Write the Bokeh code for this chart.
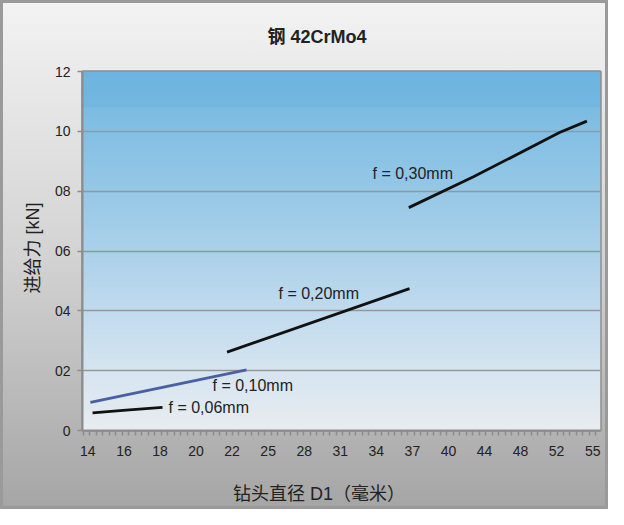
import numpy as np
from bokeh.plotting import figure
from bokeh.models import FixedTicker, Title
from bokeh.embed import file_html
from bokeh.resources import INLINE
from bokeh.core.properties import value

# ---- data -------------------------------------------------------------
x_labels = ["14", "16", "18", "20", "22", "25", "28", "31", "34", "37",
            "40", "44", "48", "52", "55"]
y_ticks = [0, 2, 4, 6, 8, 10, 12]
y_labels = ["0", "02", "04", "06", "08", "10", "12"]

# x given as position on the category axis (0 = "14", 14 = "55")
f006_x = [0.13, 1.06, 2.07]
f006_y = [0.59, 0.68, 0.77]
f010_x = [0.07, 4.40]
f010_y = [0.94, 2.03]
f020_x = [3.86, 8.92]
f020_y = [2.62, 4.74]
f030_x = [8.90, 10.68, 13.08, 13.84]
f030_y = [7.45, 8.47, 9.96, 10.34]

series_names = ["f = 0,06mm", "f = 0,10mm", "f = 0,20mm", "f = 0,30mm"]

title_text = "钢 42CrMo4"
x_title = "钻头直径 D1（毫米）"
y_title = "进给力 [kN]"

# ---- geometry ---------------------------------------------------------
W, H = 608, 509
FL, FR, FT, FB = 82, 600, 71, 430          # frame edges in px
X0, X1 = -0.149, 14.217
PPX = (FR - FL) / (X1 - X0)
PPY = (FB - FT) / 12.0


def px_x(px):
    return X0 + (px - FL) / PPX


def px_y(py):
    return (FB - py) / PPY


FONT = "Liberation Sans, Noto Sans CJK SC"

p = figure(width=W, height=H, output_backend="svg", toolbar_location=None,
           x_range=(X0, X1), y_range=(0, 12),
           min_border_left=FL, min_border_right=W - FR,
           min_border_top=FT, min_border_bottom=H - FB)

p.border_fill_color = None
p.background_fill_color = None
p.styles = {
    "background": "linear-gradient(to bottom, #f3f3f3 0%, #d3d3d3 50%, #a5a5a5 100%)",
    "box-shadow": "inset 0 0 0 3px #9a9a9a",
}
p.outline_line_color = "#8e8e8e"
p.outline_line_width = 2.5

# plot-area gradient (decoration)
stops_v = [0, 2, 4, 6, 8, 10, 10.8, 10.81, 12]
stops_c = ["#e9edf1", "#d6e5f0", "#c1dbee", "#abd1ea", "#96c8e7",
           "#84c0e4", "#7cbce2", "#74b8e1", "#6cb4df"]
N = 480
vals = np.linspace(0, 12, N)
rgb = np.array([[int(c[i:i + 2], 16) for i in (1, 3, 5)] for c in stops_c], dtype=float)
img = np.empty((N, 1), dtype=np.uint32)
view = img.view(dtype=np.uint8).reshape((N, 1, 4))
for k in range(3):
    view[:, 0, k] = np.interp(vals, stops_v, rgb[:, k]).astype(np.uint8)
view[:, 0, 3] = 255
p.image_rgba(image=[img], x=X0, y=0, dw=X1 - X0, dh=12, level="image")

# grid
p.xgrid.visible = False
p.ygrid.ticker = FixedTicker(ticks=y_ticks[1:-1])
p.ygrid.grid_line_color = "#979797"
p.ygrid.grid_line_width = 1.5

# y axis
p.yaxis.ticker = FixedTicker(ticks=y_ticks)
p.yaxis.major_label_overrides = {t: l for t, l in zip(y_ticks, y_labels)}
p.yaxis.axis_line_color = "#8c8c8c"
p.yaxis.axis_line_width = 2
p.yaxis.major_tick_line_color = "#8c8c8c"
p.yaxis.major_tick_line_width = 1.5
p.yaxis.major_tick_out = 5
p.yaxis.major_tick_in = 0
p.yaxis.minor_tick_line_color = None
p.yaxis.major_label_standoff = 7
p.yaxis.major_label_text_font = "Liberation Sans"
p.yaxis.major_label_text_font_size = "14px"
p.yaxis.major_label_text_color = "#222222"

# x axis
xt = list(range(len(x_labels)))
minor = list(np.arange(X0 + 0.02, X1, 0.18))
p.xaxis.ticker = FixedTicker(ticks=xt, minor_ticks=minor)
p.xaxis.major_label_overrides = {i: l for i, l in zip(xt, x_labels)}
p.xaxis.axis_line_color = "#8c8c8c"
p.xaxis.axis_line_width = 2
p.xaxis.major_tick_line_color = None
p.xaxis.major_tick_out = 5
p.xaxis.major_tick_in = 0
p.xaxis.minor_tick_line_color = "#8c8c8c"
p.xaxis.minor_tick_line_width = 1.5
p.xaxis.minor_tick_out = 5
p.xaxis.minor_tick_in = 0
p.xaxis.major_label_standoff = 10
p.xaxis.major_label_text_font = "Liberation Sans"
p.xaxis.major_label_text_font_size = "14px"
p.xaxis.major_label_text_color = "#222222"

# x title as axis label (trailing no-break spaces shift its centre left)
p.xaxis.axis_label = x_title + "\u00a0" * 9
p.xaxis.axis_label_standoff = 25
p.xaxis.axis_label_text_font = FONT
p.xaxis.axis_label_text_font_size = "18px"
p.xaxis.axis_label_text_font_style = "normal"
p.xaxis.axis_label_text_color = "#222222"

# main title
p.title.text = title_text
p.title.align = "left"
p.title.offset = 267 - FL
p.title.standoff = 49
p.title.text_font = FONT
p.title.text_font_size = "18px"
p.title.text_font_style = "bold"
p.title.text_color = "#222222"

# y title
p.add_layout(Title(text=y_title, align="left", offset=FB - 293, standoff=17,
                   text_font=FONT, text_font_size="18px", text_font_style="normal",
                   text_color="#222222"), "left")

# series
p.line(f006_x, f006_y, line_color="#111111", line_width=2.8)
p.line(f010_x, f010_y, line_color="#4b5fa3", line_width=2.8)
p.line(f020_x, f020_y, line_color="#111111", line_width=2.8)
p.line(f030_x, f030_y, line_color="#111111", line_width=2.8)

# series labels (placed beside their lines)
lab_px = [168, 212, 278, 372]
lab_py = [407, 385, 293, 173]
p.text(x=[px_x(v) for v in lab_px], y=[px_y(v) for v in lab_py], text=series_names,
       text_align="left", text_baseline="middle", text_font=value("Liberation Sans"),
       text_font_size="16px", text_color="#222222")

open("out.html", "w").write(file_html(p, INLINE))
